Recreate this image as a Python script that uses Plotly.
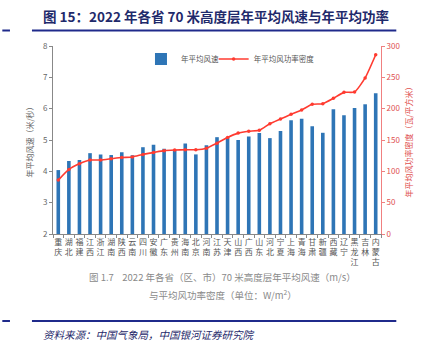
import plotly.graph_objects as go

provinces = ["重庆", "湖北", "福建", "江西", "浙江", "湖南", "陕西", "云南", "四川", "安徽",
             "广东", "贵州", "海南", "北京", "河南", "江苏", "天津", "山西", "广西", "山东",
             "河北", "宁夏", "上海", "青海", "甘肃", "新疆", "西藏", "辽宁", "黑龙江", "吉林", "内蒙古"]
wind_speed = [4.04, 4.33, 4.36, 4.58, 4.54, 4.52, 4.61, 4.51, 4.77, 4.85,
              4.72, 4.68, 4.89, 4.54, 4.83, 5.09, 5.09, 5.00, 5.11, 5.22,
              5.06, 5.29, 5.63, 5.68, 5.44, 5.23, 5.98, 5.79, 6.02, 6.14, 6.49]
power_density = [86, 103, 112, 118, 118, 120, 122, 123, 127, 130,
                 133, 134, 134.5, 134.5, 137, 145, 154, 161, 164, 165.5,
                 176, 183.5, 191, 198, 207, 208, 216.5, 226, 226.6, 249, 286]
tick_text = ["<br>".join(list(p)) for p in provinces]

W, H = 424, 353
L, R, T, B = 53, 396, 46, 234


def px(x):
    return (x - L) / (R - L)


def py(y):
    return (B - y) / (B - T)


fig = go.Figure()
fig.add_trace(go.Bar(
    x=provinces, y=wind_speed, name="年平均风速",
    marker=dict(color="#2e75b6", line=dict(width=0)), width=0.34, legend="legend",
))
fig.add_trace(go.Scatter(
    x=provinces, y=power_density, name="年平均风功率密度", yaxis="y2",
    mode="lines+markers", line=dict(color="#ff3b30", width=1.6, shape="spline", smoothing=0.5),
    marker=dict(color="#ff3b30", size=3.5), legend="legend2",
))

axis_font = dict(family="Noto Sans CJK SC", size=8, color="#666666")
leg_common = dict(yanchor="middle", xanchor="left", bgcolor="rgba(0,0,0,0)",
                  font=dict(size=7.5, color="#555555"), itemwidth=30)

fig.update_layout(
    width=W, height=H,
    margin=dict(l=L, r=W - R, t=T, b=H - B),
    paper_bgcolor="white", plot_bgcolor="white",
    font=dict(family="Noto Sans CJK SC", size=8, color="#595959"),
    showlegend=True,
    legend=dict(x=px(145), y=py(59), **leg_common),
    legend2=dict(x=px(221), y=py(59), **leg_common),
    xaxis=dict(
        tickmode="array", tickvals=provinces, ticktext=tick_text,
        tickangle=0, tickfont=dict(family="Noto Sans CJK SC", size=8, color="#555555"),
        showline=True, linecolor="#888888", linewidth=1,
        ticks="outside", ticklen=3, tickcolor="#888888", tickson="boundaries",
        showgrid=False, range=[-0.5, len(provinces) - 0.5],
    ),
    yaxis=dict(
        range=[2, 8], dtick=1, tickfont=axis_font,
        showline=True, linecolor="#888888", linewidth=1,
        ticks="outside", ticklen=3, tickcolor="#888888", showgrid=False,
        title=dict(text="年平均风速（米/秒）", font=dict(size=8, color="#666666"), standoff=8),
        zeroline=False,
    ),
    yaxis2=dict(
        range=[0, 300], dtick=50, overlaying="y", side="right",
        tickfont=dict(family="Noto Sans CJK SC", size=8, color="#e05050"),
        showline=True, linecolor="#f08080", linewidth=1,
        ticks="outside", ticklen=3, tickcolor="#f08080", showgrid=False,
        title=dict(text="年平均风功率密度（瓦/平方米）", font=dict(size=8, color="#e05050"), standoff=6),
        zeroline=False,
    ),
)

# Title and decorative rules
fig.add_annotation(
    text="<b>图 15：2022 年各省 70 米高度层年平均风速与年平均功率</b>",
    xref="paper", yref="paper", x=px(40), y=py(16), xanchor="left", yanchor="middle",
    showarrow=False, font=dict(family="Noto Sans CJK SC", size=13.5, color="#1f2a6b"),
)
for y0 in (30.5, 321):
    fig.add_shape(type="line", xref="paper", yref="paper", x0=px(0), x1=px(8), y0=py(y0), y1=py(y0),
                  line=dict(color="#1f2a8b", width=2))
    fig.add_shape(type="line", xref="paper", yref="paper", x0=px(31), x1=px(412), y0=py(y0), y1=py(y0),
                  line=dict(color="#1f2a8b", width=2))

# Caption inside image
fig.add_annotation(
    text="图 1.7    2022 年各省（区、市）70 米高度层年平均风速（m/s）",
    xref="paper", yref="paper", x=px(230), y=py(277), xanchor="center", yanchor="middle",
    showarrow=False, font=dict(family="Noto Sans CJK SC", size=9.5, color="#8a8a8a"),
)
fig.add_annotation(
    text="与平均风功率密度（单位：W/m<sup>2</sup>）",
    xref="paper", yref="paper", x=px(231), y=py(294), xanchor="center", yanchor="middle",
    showarrow=False, font=dict(family="Noto Sans CJK SC", size=9.5, color="#8a8a8a"),
)

# Source
fig.add_annotation(
    text="<i>资料来源：中国气象局，中国银河证券研究院</i>",
    xref="paper", yref="paper", x=px(40), y=py(334), xanchor="left", yanchor="middle",
    showarrow=False, font=dict(family="Noto Sans CJK SC", size=10.5, color="#1f2a6b"),
)

fig.write_html("out.html")
